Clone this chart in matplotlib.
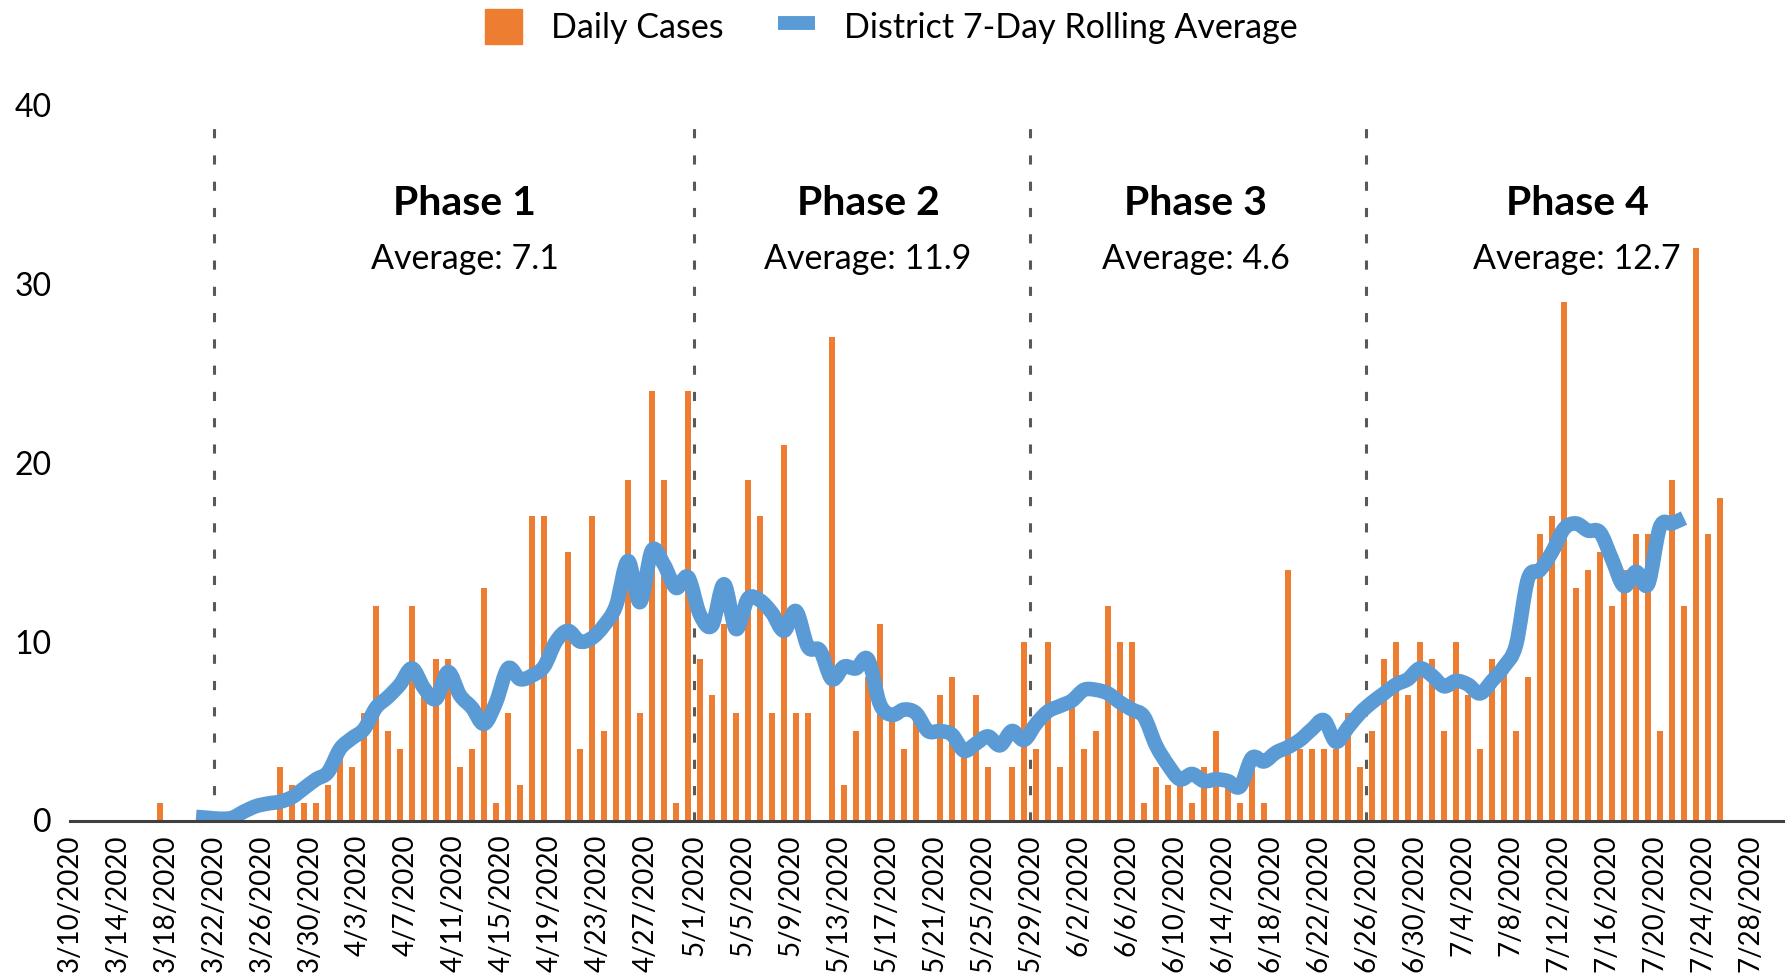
import matplotlib
matplotlib.use("Agg")
import matplotlib.pyplot as plt
from matplotlib.patches import Patch, PathPatch
from matplotlib.lines import Line2D
from matplotlib.path import Path
import pandas as pd

plt.rcParams['font.family'] = ['Lato', 'DejaVu Sans']

# daily case counts, one per day starting 3/17/2020
cases_start = "2020-03-17"
daily_cases = [1, 0, 0, 0, 0, 0, 0, 0, 0, 0,            # 3/17 - 3/26
               3, 2, 1, 1, 2, 4, 3, 6, 12, 5,           # 3/27 - 4/5
               4, 12, 7, 9, 9, 3, 4, 13, 1, 6,          # 4/6 - 4/15
               2, 17, 17, 0, 15, 4, 17, 5, 12, 19,      # 4/16 - 4/25
               6, 24, 19, 1, 24, 9, 7, 11, 6, 19,       # 4/26 - 5/5
               17, 6, 21, 6, 6, 0, 27, 2, 5, 8,         # 5/6 - 5/15
               11, 6, 4, 6, 0, 7, 8, 4, 7, 3,           # 5/16 - 5/25
               0, 3, 10, 4, 10, 3, 7, 4, 5, 12,         # 5/26 - 6/4
               10, 10, 1, 3, 2, 2, 1, 3, 5, 2,          # 6/5 - 6/14
               1, 3, 1, 0, 14, 4, 4, 4, 4, 6,           # 6/15 - 6/24
               3, 5, 9, 10, 7, 10, 9, 5, 10, 7,         # 6/25 - 7/4
               4, 9, 9, 5, 8, 16, 17, 29, 13, 14,       # 7/5 - 7/14
               15, 12, 14, 16, 16, 5, 19, 12, 32, 16,   # 7/15 - 7/24
               18]                                      # 7/25

# district 7-day rolling average, one per day starting 3/20/2020
avg_start = "2020-03-20"
rolling_avg = [0.2, 0.15, 0.1, 0.15, 0.5, 0.8, 0.95, 1.05, 1.3, 1.8,
               2.3, 2.7, 4.0, 4.6, 5.1, 6.3, 6.9, 7.6, 8.5, 7.4,
               6.8, 8.3, 7.0, 6.3, 5.4, 6.6, 8.5, 7.9, 8.1, 8.6,
               10.0, 10.6, 10.0, 10.2, 10.9, 12.0, 14.5, 12.2, 15.1, 14.3,
               13.0, 13.6, 11.5, 10.9, 13.2, 10.7, 12.4, 12.3, 11.6, 10.6,
               11.7, 9.7, 9.5, 7.9, 8.6, 8.5, 9.0, 6.5, 5.9, 6.2,
               6.0, 5.0, 5.0, 4.8, 3.9, 4.3, 4.7, 4.2, 5.0, 4.5,
               5.4, 6.1, 6.4, 6.7, 7.3, 7.3, 7.1, 6.6, 6.2, 5.8,
               4.2, 3.1, 2.3, 2.6, 2.2, 2.3, 2.2, 1.9, 3.5, 3.3,
               3.8, 4.1, 4.5, 5.1, 5.6, 4.4, 5.2, 6.0, 6.6, 7.1,
               7.6, 7.9, 8.5, 8.1, 7.5, 7.8, 7.6, 7.1, 7.8, 8.6,
               9.8, 13.5, 14.0, 15.0, 16.3, 16.6, 16.2, 16.1, 14.6, 13.1,
               13.9, 13.2, 16.4, 16.6, 16.9]

axis_start = pd.Timestamp("2020-03-10")
axis_end = pd.Timestamp("2020-07-28")
phase_starts = ["2020-03-22", "2020-05-01", "2020-05-29", "2020-06-26"]
phase_names = ["Phase 1", "Phase 2", "Phase 3", "Phase 4"]
phase_avgs = ["Average: 7.1", "Average: 11.9", "Average: 4.6", "Average: 12.7"]
phase_label_x = [32.9, 66.5, 93.8, 125.6]

orange = "#ED7D31"
blue = "#5B9BD5"


def day_no(start, n):
    # days since 3/10 for n consecutive days, centred in their slot
    first = (pd.Timestamp(start) - axis_start).days
    return [first + i + 0.5 for i in range(n)]


def smooth_path(xs, ys):
    # excel style smoothed line: bezier segments through every point
    pts = list(zip(xs, ys))
    verts = [pts[0]]
    codes = [Path.MOVETO]
    for i in range(len(pts) - 1):
        p0 = pts[i - 1] if i > 0 else pts[i]
        p1 = pts[i]
        p2 = pts[i + 1]
        p3 = pts[i + 2] if i + 2 < len(pts) else pts[i + 1]
        c1 = (p1[0] + (p2[0] - p0[0]) / 6, p1[1] + (p2[1] - p0[1]) / 6)
        c2 = (p2[0] - (p3[0] - p1[0]) / 6, p2[1] - (p3[1] - p1[1]) / 6)
        verts += [c1, c2, p2]
        codes += [Path.CURVE4] * 3
    return Path(verts, codes)


fig = plt.figure(figsize=(17.85, 9.77), dpi=100)
ax = fig.add_axes([70 / 1785, 1 - 820.5 / 977, 1 - 70 / 1785, (820.5 - 104.7) / 977])

ax.bar(day_no(cases_start, len(daily_cases)), daily_cases, width=0.5, color=orange, zorder=2)
line = PathPatch(smooth_path(day_no(avg_start, len(rolling_avg)), rolling_avg),
                 facecolor='none', edgecolor=blue, lw=10.5, joinstyle='round', capstyle='butt', zorder=3)
ax.add_patch(line)

for s in phase_starts:
    x = (pd.Timestamp(s) - axis_start).days
    ax.plot([x, x], [0, 38.9], color="#595959", lw=2.2, linestyle=(0, (3, 5.6)), zorder=1)

for x, name, avg in zip(phase_label_x, phase_names, phase_avgs):
    ax.text(x, 34.5, name, ha='center', va='center', fontsize=29.5, fontweight='bold')
    ax.text(x, 31.4, avg, ha='center', va='center', fontsize=24.5)

ax.set_xlim(0, 1715 / 12)
ax.set_ylim(0, 40)
ax.set_yticks([0, 10, 20, 30, 40])
ticks = pd.date_range(axis_start, axis_end, freq="4D")
ax.set_xticks([(t - axis_start).days for t in ticks])
ax.set_xticklabels([f"{t.month}/{t.day}/{t.year}" for t in ticks], rotation=90)
ax.tick_params(axis='x', length=0, pad=10, labelsize=20)
ax.tick_params(axis='y', length=0, pad=13, labelsize=23)

for side in ['top', 'right', 'left']:
    ax.spines[side].set_visible(False)
ax.spines['bottom'].set_color("#404040")
ax.spines['bottom'].set_linewidth(2.2)
ax.spines['bottom'].set_zorder(4)

handles = [Patch(color=orange, label="Daily Cases"),
           Line2D([], [], color=blue, lw=10, solid_capstyle='butt', label="District 7-Day Rolling Average")]
fig.legend(handles=handles, loc='center', bbox_to_anchor=(0.4995, 0.973), ncol=2, frameon=False,
           fontsize=24.5, handlelength=1.09, handleheight=1.2, handletextpad=0.85, columnspacing=1.6)

fig.savefig("out.png", dpi=100)
